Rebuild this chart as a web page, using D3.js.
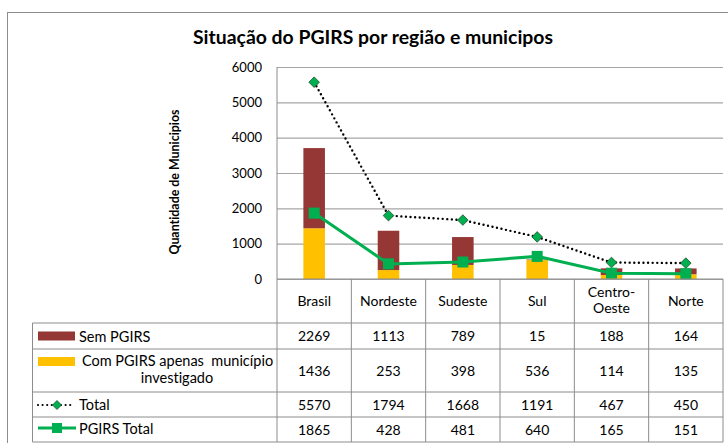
<html><head>
<meta charset="utf-8">
<script src="https://d3js.org/d3.v7.min.js"></script>
<style>
  body { margin: 0; background: #fff; }
  svg text { font-family: Lato, "Open Sans", sans-serif; fill: #000; font-variant-ligatures: none; white-space: pre; }
  .gridlines line { stroke: #a6a6a6; stroke-width: 1.2; }
  .gridlines .domain { stroke: none; }
  .y.axis .domain, .y.axis line { stroke: none; }
  .y.axis text { font-size: 13px; }
  .tbl line { stroke: #8c8c8c; stroke-width: 1; }
  .tbl text { font-size: 14px; text-anchor: middle; }
  .leg text { font-size: 14.5px; }
</style>
</head>
<body>
<svg id="chart" width="728" height="443"></svg>
<script>
// data
const categories = ["Brasil", "Nordeste", "Sudeste", "Sul", "Centro-Oeste", "Norte"];
const semPGIRS   = [2269, 1113, 789, 15, 188, 164];
const comPGIRS   = [1436, 253, 398, 536, 114, 135];
const total      = [5570, 1794, 1668, 1191, 467, 450];
const pgirsTotal = [1865, 428, 481, 640, 165, 151];
const yTicks     = [0, 1000, 2000, 3000, 4000, 5000, 6000];

const svg = d3.select("svg#chart");
const plot = { left: 277, right: 723, top: 67, bottom: 279 };

// outer frame
svg.append("rect").attr("x", 7.5).attr("y", 12.5).attr("width", 740).attr("height", 460)
  .attr("fill", "none").attr("stroke", "#8c8c8c");

svg.append("text").attr("x", 373).attr("y", 44).attr("text-anchor", "middle")
  .style("font-size", "19.4px").style("font-weight", "bold")
  .text("Situação do PGIRS por região e municipos");

// scales
const x = d3.scaleBand().domain(categories).range([plot.left, plot.right]);
const y = d3.scaleLinear().domain([0, 6000]).range([plot.bottom, plot.top]);

// gridlines
svg.append("g").attr("class", "gridlines")
  .attr("transform", "translate(" + plot.left + ",0)")
  .call(d3.axisLeft(y).tickValues(yTicks).tickSize(-(plot.right - plot.left)).tickFormat(""));

// y axis labels
svg.append("g").attr("class", "y axis")
  .attr("transform", "translate(" + (plot.left - 9) + ",0)")
  .call(d3.axisLeft(y).tickValues(yTicks).tickSize(0).tickPadding(6).tickFormat(d3.format("d")));

svg.append("text")
  .attr("transform", "translate(179,182) rotate(-90)")
  .attr("text-anchor", "middle")
  .style("font-size", "12.4px").style("font-weight", "bold")
  .text("Quantidade de Municipios");

// stacked bars
const barW = x.bandwidth() * 0.29;
const bars = svg.append("g");
categories.forEach((c, i) => {
  const cx = x(c) + x.bandwidth() / 2;
  bars.append("rect")
    .attr("x", cx - barW / 2).attr("width", barW)
    .attr("y", y(comPGIRS[i])).attr("height", y(0) - y(comPGIRS[i]))
    .attr("fill", "#ffc000");
  bars.append("rect")
    .attr("x", cx - barW / 2).attr("width", barW)
    .attr("y", y(comPGIRS[i] + semPGIRS[i])).attr("height", y(comPGIRS[i]) - y(comPGIRS[i] + semPGIRS[i]))
    .attr("fill", "#953735");
});

// lines
const cxOf = (d, i) => x(categories[i]) + x.bandwidth() / 2;
const line = d3.line().x(cxOf).y(d => y(d));

svg.append("path").datum(total).attr("d", line)
  .attr("fill", "none").attr("stroke", "#000").attr("stroke-width", 2.4)
  .attr("stroke-linecap", "round").attr("stroke-dasharray", "0,4.6");

svg.append("path").datum(pgirsTotal).attr("d", line)
  .attr("fill", "none").attr("stroke", "#00b050").attr("stroke-width", 3);

function diamond(g, cx, cy, s) {
  g.append("path")
    .attr("d", "M" + cx + "," + (cy - s) + "L" + (cx + s) + "," + cy + "L" + cx + "," + (cy + s) + "L" + (cx - s) + "," + cy + "Z")
    .attr("fill", "#00b050").attr("stroke", "#1e4d2b").attr("stroke-width", 0.8);
}
function square(g, cx, cy, s) {
  g.append("rect").attr("x", cx - s).attr("y", cy - s).attr("width", 2 * s).attr("height", 2 * s)
    .attr("fill", "#00b050");
}

const marks = svg.append("g");
total.forEach((d, i) => diamond(marks, cxOf(d, i), y(d), 5.3));
pgirsTotal.forEach((d, i) => square(marks, cxOf(d, i), y(d), 5.5));

// data table
const tbl = svg.append("g").attr("class", "tbl");
const rowEdges = [279, 323, 349, 392, 417, 442];
const legendLeft = 32.5;

tbl.append("line").attr("x1", plot.left).attr("x2", plot.left).attr("y1", plot.top).attr("y2", 442);
tbl.append("line").attr("x1", plot.left).attr("x2", plot.right).attr("y1", plot.bottom).attr("y2", plot.bottom);
categories.forEach(c => {
  const xr = x(c) + x.bandwidth();
  tbl.append("line").attr("x1", xr).attr("x2", xr).attr("y1", plot.bottom).attr("y2", 442);
});
rowEdges.slice(1).forEach(ry => {
  tbl.append("line").attr("x1", legendLeft).attr("x2", plot.right).attr("y1", ry).attr("y2", ry);
});
tbl.append("line").attr("x1", legendLeft).attr("x2", legendLeft).attr("y1", rowEdges[1]).attr("y2", 442);

// category header
categories.forEach(c => {
  const cx = x(c) + x.bandwidth() / 2;
  const parts = c === "Centro-Oeste" ? ["Centro-", "Oeste"] : [c];
  parts.forEach((p, j) => {
    tbl.append("text").attr("x", cx)
      .attr("y", parts.length === 1 ? 306 : 297 + j * 16)
      .text(p);
  });
});

const rows = [semPGIRS, comPGIRS, total, pgirsTotal];
rows.forEach((vals, r) => {
  const mid = (rowEdges[r + 1] + rowEdges[r + 2]) / 2;
  vals.forEach((v, i) => {
    tbl.append("text").attr("x", x(categories[i]) + x.bandwidth() / 2).attr("y", mid + 5).text(v);
  });
});

// legend keys
const leg = svg.append("g").attr("class", "leg");
const keyX = 38;
leg.append("rect").attr("x", keyX).attr("y", 331.5).attr("width", 37).attr("height", 9).attr("fill", "#953735");
leg.append("text").attr("x", 79).attr("y", 341.5).text("Sem PGIRS");

leg.append("rect").attr("x", keyX).attr("y", 357).attr("width", 37).attr("height", 9).attr("fill", "#ffc000");
leg.append("text").attr("x", 177.5).attr("y", 366).attr("text-anchor", "middle").text("Com PGIRS apenas  município");
leg.append("text").attr("x", 177).attr("y", 383).attr("text-anchor", "middle").text("investigado");

leg.append("path").attr("d", "M38,405L74,405")
  .attr("stroke", "#000").attr("stroke-width", 2.2).attr("stroke-linecap", "round").attr("stroke-dasharray", "0,4.6");
diamond(leg, 57, 405, 4.5);
leg.append("text").attr("x", 79).attr("y", 409.5).text("Total");

leg.append("path").attr("d", "M38,428L76,428").attr("stroke", "#00b050").attr("stroke-width", 3);
square(leg, 57, 428, 5);
leg.append("text").attr("x", 79).attr("y", 433.5).text("PGIRS Total");
</script>
</body>
</html>
